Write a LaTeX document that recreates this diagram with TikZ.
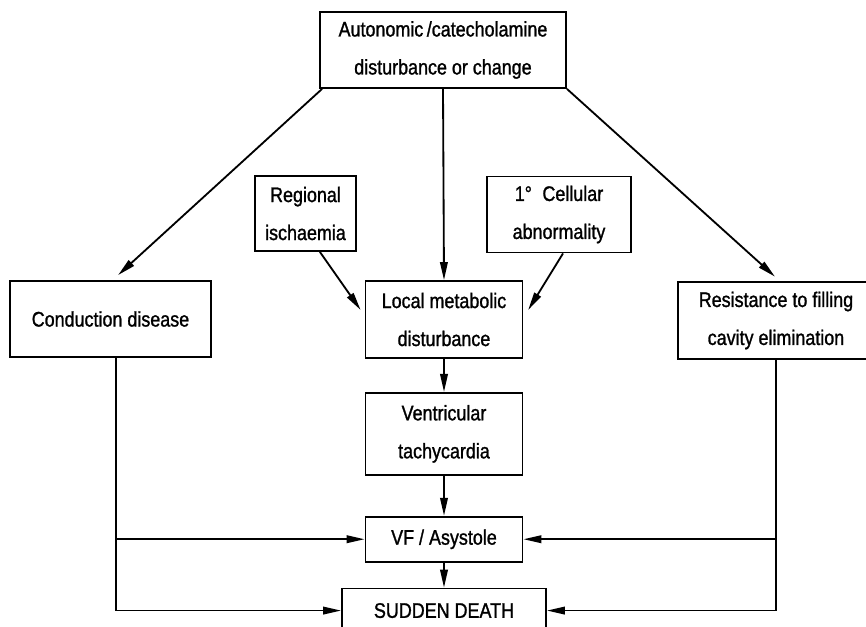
\documentclass[tikz,border=0pt]{standalone}
\usepackage{fontspec}
\setmainfont[FakeStretch=0.85,FakeBold=1.2]{Liberation Sans}
\usetikzlibrary{arrows.meta, positioning, calc}

\begin{document}
\begin{tikzpicture}[
x=0.025cm, y=-0.025cm,
>={Triangle[length=4.5mm,width=1.9mm]},
line width=1.3pt,
box/.style={draw, line width=1.3pt, inner sep=0pt, align=center, font=\fontsize{15}{27}\selectfont},
wide/.style={box, minimum width=3.925cm}
]
\useasboundingbox (0,0) rectangle (866,626);
\clip (0,0) rectangle (866,626);

% --- Nodes ---
\node[box, minimum width=6.15cm, minimum height=1.9cm] (auto) at (443,50) {Autonomic\,/catecholamine\\disturbance or change};
\node[box, minimum width=2.525cm, minimum height=1.875cm] (reg) at (305.5,213.5) {Regional\\ischaemia};
\node[box, minimum width=3.6cm, minimum height=1.9cm] (cell) at (559,214.5) {1°\enspace Cellular\\abnormality};
\node[box, minimum width=5.025cm, minimum height=1.9cm] (cond) at (110.5,319) {Conduction disease};
\node[wide, minimum height=1.925cm] (local) at (444,319.5) {Local metabolic\\disturbance};
\node[box, minimum width=4.9cm, minimum height=1.925cm] (res) at (776,320.5) {Resistance to filling\\cavity elimination};
\node[wide, minimum height=2.05cm, below=0.825cm of local] (vt) {Ventricular\\tachycardia};
\node[wide, minimum height=1.125cm, below=1cm of vt] (vf) {VF / Asystole};
\node[box, minimum width=5.1cm, minimum height=1.1cm, below=0.625cm of vf] (death) {SUDDEN DEATH};

% --- Arrows from the top ---
\draw[->] ([xshift=0.075cm]auto.south west) -- ([xshift=0.19cm,yshift=0.125cm]cond.north);
\draw[->] (auto.south east) -- ([xshift=-0.025cm,yshift=0.11cm]res.north);
\draw[->] (auto.south) -- (local.north);

% --- Into local metabolic disturbance ---
\draw[->] ([xshift=0.36cm]reg.south) -- ([xshift=-0.1cm,yshift=0.24cm]local.west);
\draw[->] ([xshift=0.1cm]cell.south) -- ([xshift=0.12cm,yshift=0.24cm]local.east);

% --- Centre column ---
\draw[->] (local.south) -- (vt.north);
\draw[->] (vt.south) -- (vf.north);
\draw[->] (vf.south) -- (vf.south |- death.north);

% --- Side branches ---
\draw[->] ([xshift=0.14cm]cond.south) |- (vf.west);
\draw[->] ([xshift=0.14cm]cond.south) |- (death.west);
\draw[->] (res.south) |- (vf.east);
\draw[->] (res.south) |- (death.east);

\end{tikzpicture}
\end{document}
